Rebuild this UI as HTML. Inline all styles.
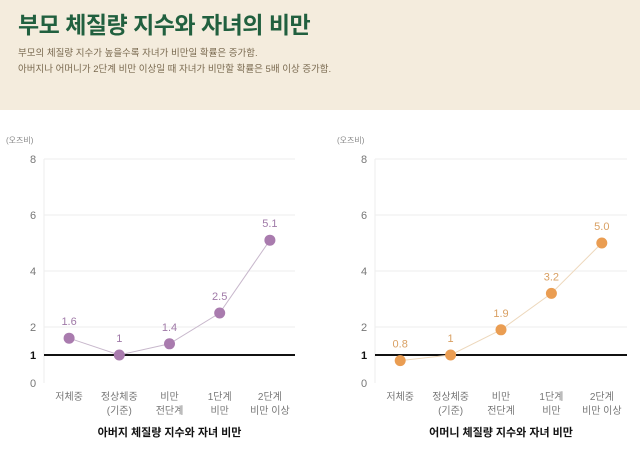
<!DOCTYPE html>
<html><head><meta charset="utf-8">
<style>
body{margin:0;width:640px;height:451px;background:#fff;font-family:"Liberation Sans","Noto Sans CJK KR",sans-serif;overflow:hidden;position:relative}
#hdr{position:absolute;left:0;top:0;width:640px;height:110px;background:#f4ecdd}
#title{position:absolute;left:18px;top:6px;font-size:23px;font-weight:bold;color:#21603f;letter-spacing:-0.5px}
.sub{position:absolute;left:18px;font-size:9.5px;color:#7a6a50}
svg{position:absolute;left:0;top:0}
</style></head><body>
<div id="hdr">
<div id="title">부모 체질량 지수와 자녀의 비만</div>
<div class="sub" style="top:45px">부모의 체질량 지수가 높을수록 자녀가 비만일 확률은 증가함.</div>
<div class="sub" style="top:61px">아버지나 어머니가 2단계 비만 이상일 때 자녀가 비만할 확률은 5배 이상 증가함.</div>
</div>
<svg id="chart" width="640" height="451"></svg>
<script>
const categories=[["저체중"],["정상체중","(기준)"],["비만","전단계"],["1단계","비만"],["2단계","비만 이상"]];
const fatherValues=[1.6,1,1.4,2.5,5.1];
const fatherLabels=["1.6","1","1.4","2.5","5.1"];
const motherValues=[0.8,1,1.9,3.2,5.0];
const motherLabels=["0.8","1","1.9","3.2","5.0"];
const yTicks=[0,2,4,6,8];
const NS="http://www.w3.org/2000/svg";
const svg=document.getElementById('chart');
function mk(t,a,p){const e=document.createElementNS(NS,t);for(const k in a)e.setAttribute(k,a[k]);(p||svg).appendChild(e);return e;}
function y(v){return 383-v*28;}
function draw(x0,x1,vals,labels,col,lcol,lineCol,title,key){
  const g=mk('g',{});
  
  
  const step=(x1-x0)/5;
  const x=i=>x0+step*(i+0.5);
  const u=mk('text',{x:x0-38,y:143,'font-size':8,fill:'#888'},g);u.textContent='(오즈비)';
  
  
  mk('line',{x1:x0,x2:x0,y1:y(8),y2:y(0),stroke:'#eee'},g);
  yTicks.forEach(t=>{
    if(t>0){const gl=mk('line',{x1:x0,x2:x1,y1:y(t),y2:y(t),stroke:'#eee'},g);
    
    }
    const tl=mk('text',{x:x0-11,y:y(t)+4,'font-size':11,fill:'#777','text-anchor':'middle'},g);tl.textContent=t;
    
    
  });
  const rl=mk('line',{x1:x0,x2:x1,y1:y(1),y2:y(1),stroke:'#111','stroke-width':2},g);
  
  
  const r1=mk('text',{x:x0-11,y:y(1)+4,'font-size':11,'font-weight':'bold',fill:'#111','text-anchor':'middle'},g);r1.textContent='1';
  
  
  const ln=mk('polyline',{points:vals.map((v,i)=>x(i)+','+y(v)).join(' '),fill:'none',stroke:lineCol,'stroke-width':1},g);
  
  
  vals.forEach((v,i)=>{
    const c=mk('circle',{cx:x(i),cy:y(v),r:5.5,fill:col},g);
    
    
    const t=mk('text',{x:x(i),y:y(v)-13,'font-size':11,fill:lcol,'text-anchor':'middle'},g);t.textContent=labels[i];
    
    
    categories[i].forEach((s,j)=>{
      const c2=mk('text',{x:x(i),y:400+j*14,'font-size':10,fill:'#777','text-anchor':'middle'},g);c2.textContent=s;
      
      
    });
  });
  const tt=mk('text',{x:(x0+x1)/2,y:436,'font-size':11,'font-weight':'bold',fill:'#111','text-anchor':'middle'},g);tt.textContent=title;
  
  
}
draw(44,295,fatherValues,fatherLabels,'#a97bae','#a07aa8','#c8b8cc','아버지 체질량 지수와 자녀 비만','father');
draw(375,627,motherValues,motherLabels,'#ea9d52','#d9a063','#edd8bc','어머니 체질량 지수와 자녀 비만','mother');
</script>
</body></html>
